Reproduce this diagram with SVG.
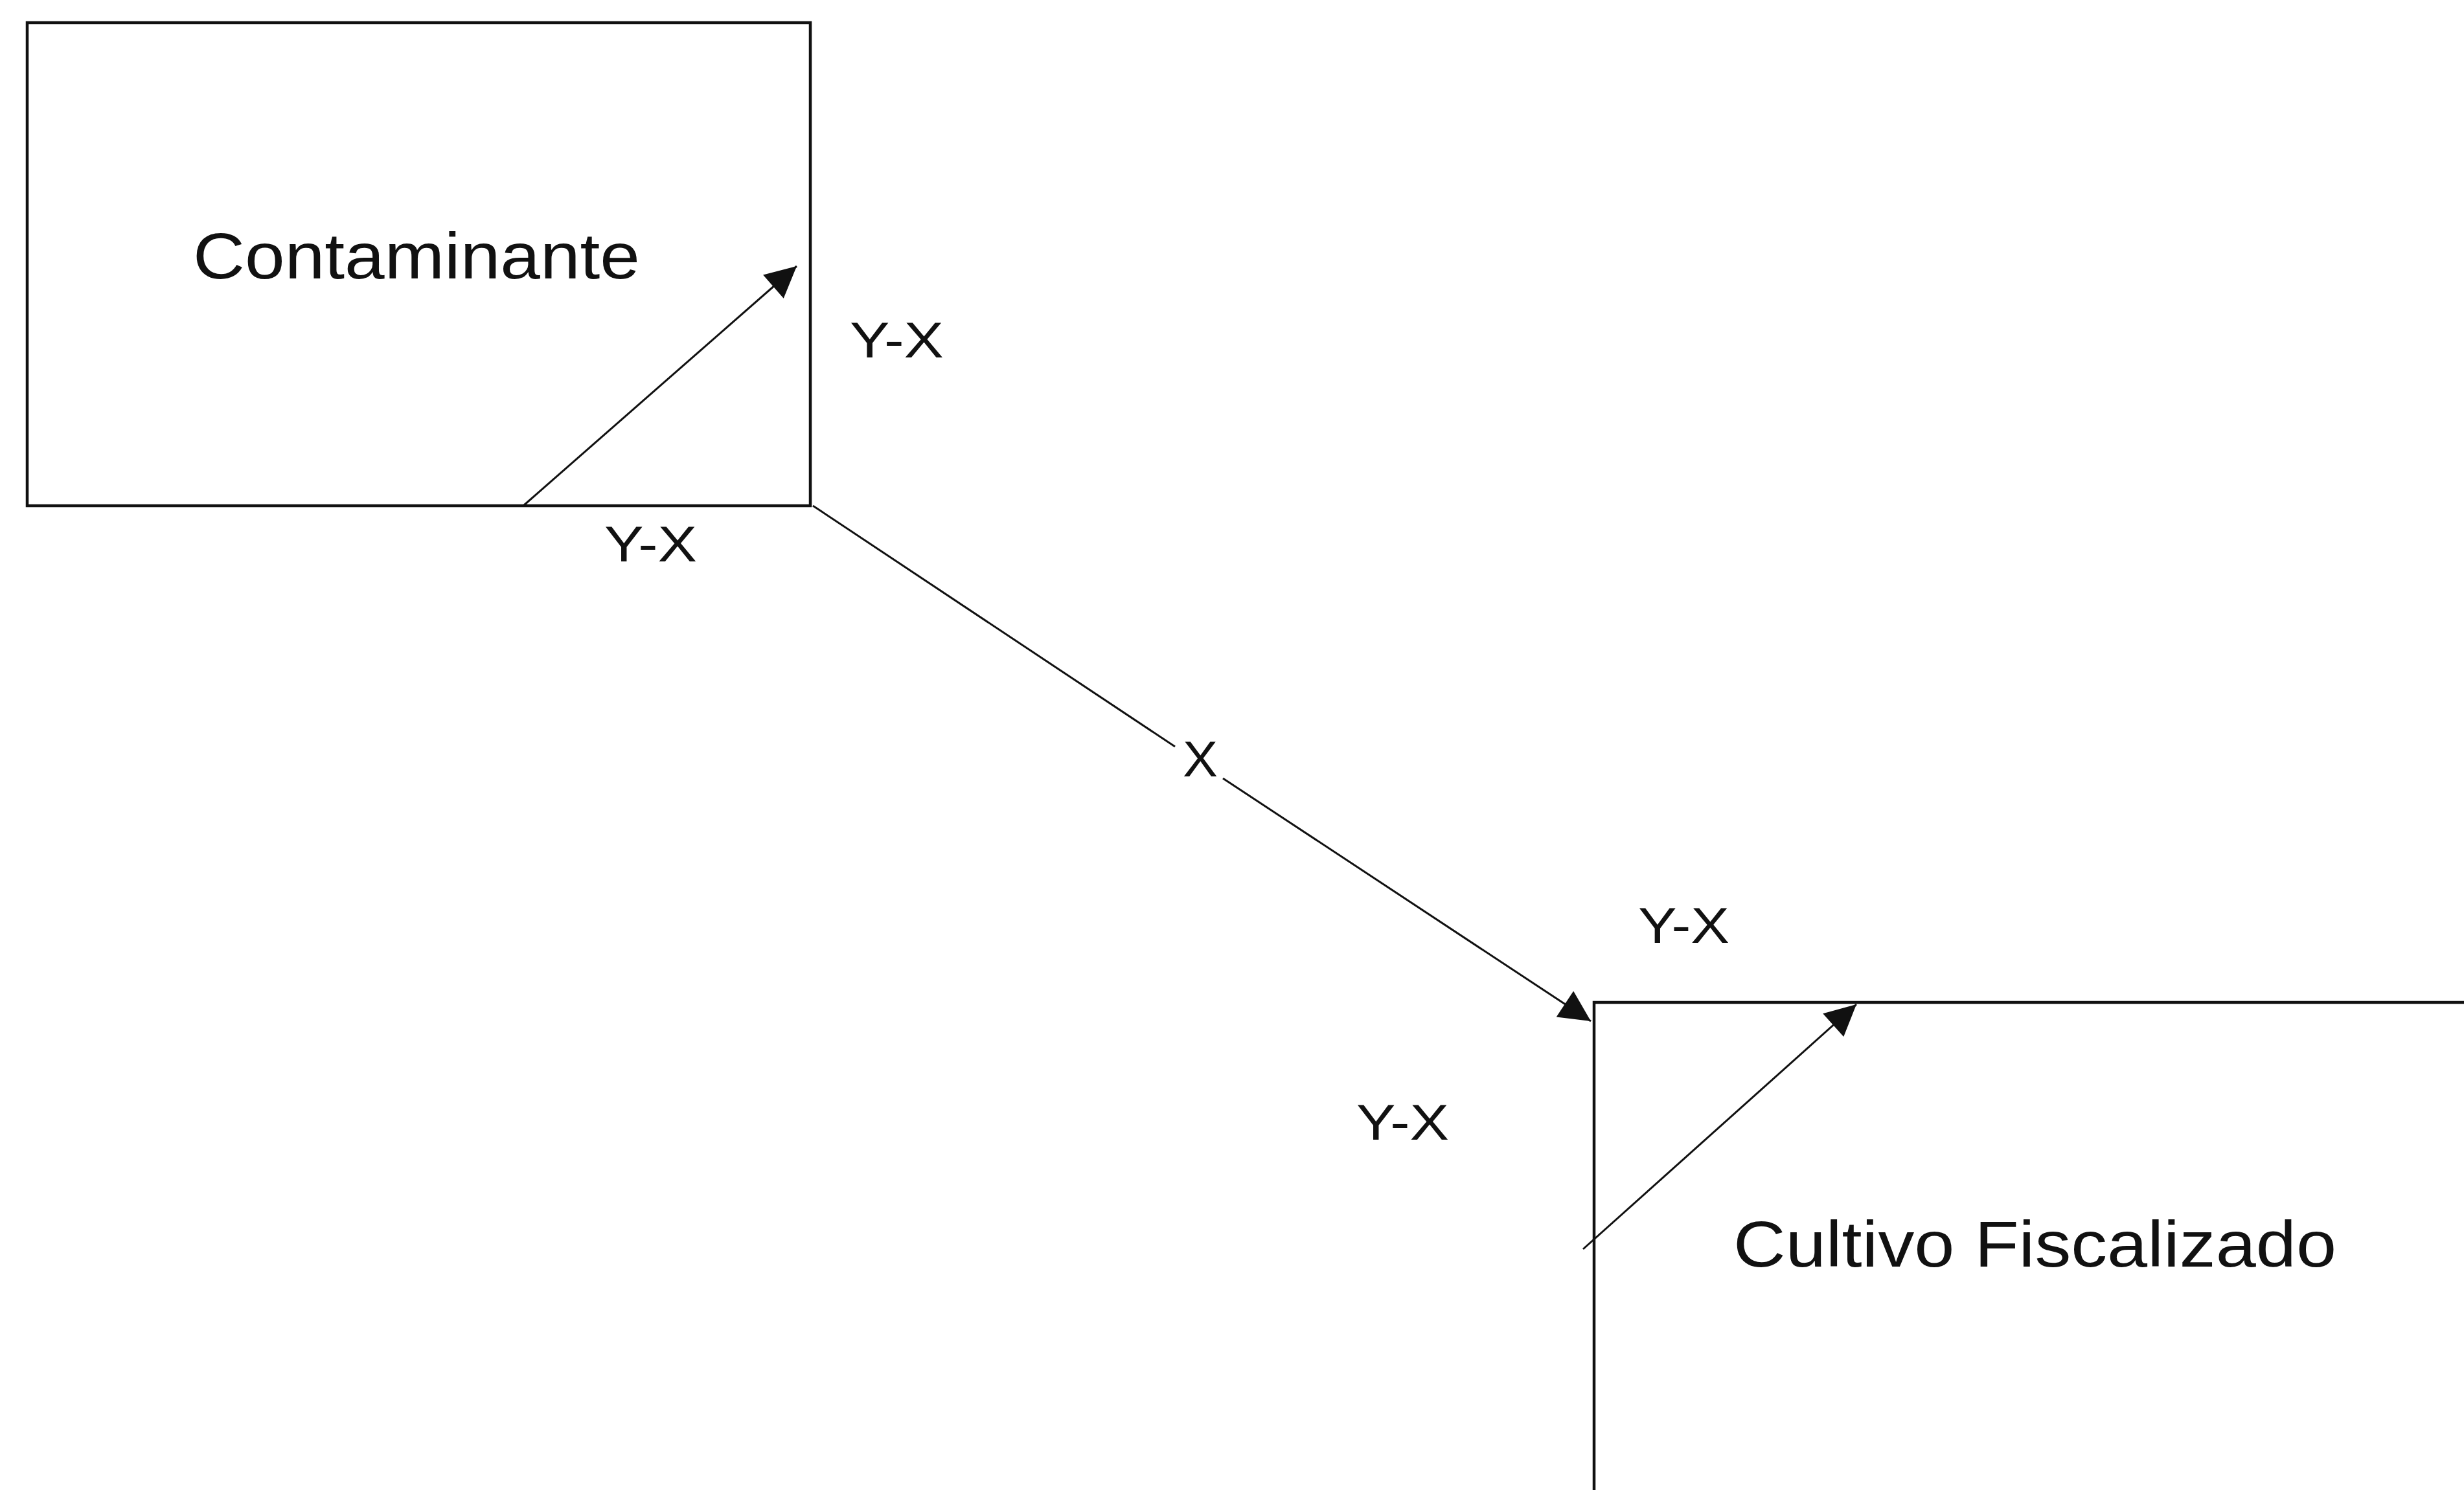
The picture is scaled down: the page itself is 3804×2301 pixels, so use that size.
<svg xmlns="http://www.w3.org/2000/svg" width="3804" height="2301" viewBox="0 0 3804 2301">
<style>
.box{fill:none;stroke:#111;stroke-width:4.5}
.conn{fill:none;stroke:#111;stroke-width:3}
.t{font-family:"Liberation Sans",Arial,sans-serif;fill:#111}
.big{font-size:100px}
.lbl{font-size:78px}
</style>
<defs>
<marker id="ah" viewBox="0 0 10 10" refX="10" refY="5" markerWidth="56" markerHeight="48" markerUnits="userSpaceOnUse" orient="auto">
<path d="M0,0 L10,5 L0,10 z" fill="#111"/>
</marker>
</defs>
<rect width="3804" height="2301" fill="#fff"/>
<g id="node-contaminante">
<rect class="box" x="42" y="35" width="1209" height="746"/>
<text class="t big" x="298" y="430" textLength="690" lengthAdjust="spacingAndGlyphs">Contaminante</text>
</g>
<g id="node-cultivo">
<rect class="box" x="2461" y="1548" width="1500" height="900"/>
<text class="t big" x="2676" y="1956" textLength="931" lengthAdjust="spacingAndGlyphs">Cultivo Fiscalizado</text>
</g>
<g id="connectors">
<path class="conn" d="M809,780 L1230,411" marker-end="url(#ah)"/>
<path class="conn" d="M1255,781 L1814,1153"/>
<path class="conn" d="M1888,1202 L2456,1577" marker-end="url(#ah)"/>
<path class="conn" d="M2444,1929 L2866,1551" marker-end="url(#ah)"/>
</g>
<g id="labels">
<text class="t lbl" x="1312" y="552" textLength="145" lengthAdjust="spacingAndGlyphs">Y-X</text>
<text class="t lbl" x="933" y="867" textLength="143" lengthAdjust="spacingAndGlyphs">Y-X</text>
<text class="t lbl" x="1826" y="1199" textLength="54" lengthAdjust="spacingAndGlyphs">X</text>
<text class="t lbl" x="2529" y="1456" textLength="141" lengthAdjust="spacingAndGlyphs">Y-X</text>
<text class="t lbl" x="2094" y="1760" textLength="143" lengthAdjust="spacingAndGlyphs">Y-X</text>
</g>
</svg>
